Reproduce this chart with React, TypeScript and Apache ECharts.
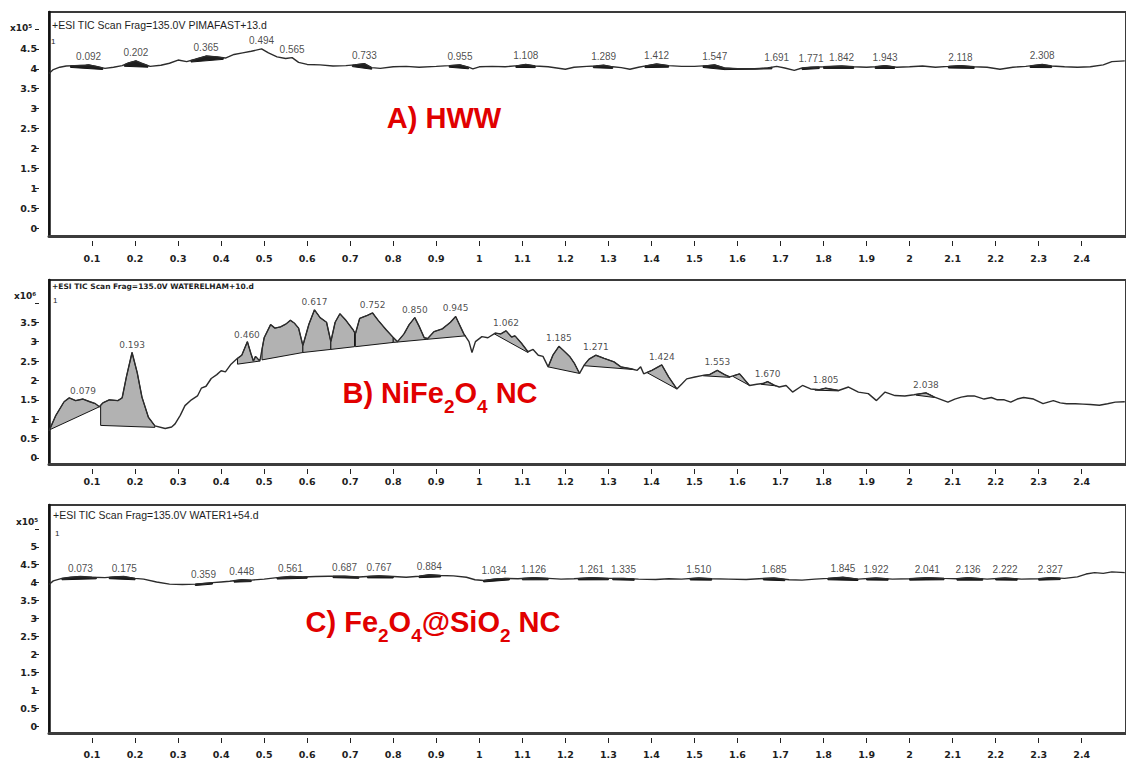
import React, { useEffect, useRef } from 'react';
import * as echarts from 'echarts';

// ---------- data ----------
const xTicks = [0.1, 0.2, 0.3, 0.4, 0.5, 0.6, 0.7, 0.8, 0.9, 1, 1.1, 1.2, 1.3, 1.4, 1.5, 1.6, 1.7, 1.8, 1.9, 2, 2.1, 2.2, 2.3, 2.4];
const yTicksA = [0, 0.5, 1, 1.5, 2, 2.5, 3, 3.5, 4, 4.5, 5];
const yTicksB = [0, 0.5, 1, 1.5, 2, 2.5, 3, 3.5, 4];
const yTicksC = [0, 0.5, 1, 1.5, 2, 2.5, 3, 3.5, 4, 4.5, 5, 5.5];

// Panel A: HWW (x10^5)
const traceA: number[][] = [
  [0, 3.88], [0.01, 3.98], [0.025, 4.04], [0.04, 4.07], [0.06, 4.08], [0.085, 4.09], [0.092, 4.1], [0.11, 4.06], [0.13, 4.01],
  [0.15, 4.04], [0.17, 4.08], [0.185, 4.15], [0.202, 4.2], [0.215, 4.14], [0.235, 4.06], [0.26, 4.09], [0.28, 4.14], [0.3, 4.22],
  [0.32, 4.18], [0.34, 4.24], [0.365, 4.32], [0.39, 4.3], [0.41, 4.27], [0.43, 4.36], [0.45, 4.4], [0.47, 4.44], [0.494, 4.5],
  [0.51, 4.4], [0.53, 4.3], [0.55, 4.26], [0.565, 4.28], [0.58, 4.16], [0.6, 4.11], [0.63, 4.1], [0.66, 4.07], [0.69, 4.08],
  [0.71, 4.1], [0.733, 4.13], [0.75, 4.03], [0.77, 4.01], [0.8, 4.05], [0.83, 4.06], [0.86, 4.04], [0.9, 4.06], [0.93, 4.08],
  [0.955, 4.1], [0.975, 4.04], [0.985, 4.0], [1.0, 4.05], [1.03, 4.06], [1.06, 4.05], [1.09, 4.08], [1.108, 4.11], [1.13, 4.07],
  [1.16, 4.05], [1.18, 4.02], [1.2, 3.99], [1.22, 4.04], [1.25, 4.06], [1.27, 4.07], [1.289, 4.09], [1.31, 4.05], [1.33, 4.03],
  [1.35, 3.99], [1.37, 4.04], [1.39, 4.08], [1.412, 4.12], [1.44, 4.08], [1.47, 4.06], [1.5, 4.06], [1.53, 4.08], [1.547, 4.1],
  [1.57, 4.02], [1.6, 4.0], [1.64, 4.0], [1.67, 4.02], [1.691, 4.06], [1.71, 4.02], [1.732, 3.96], [1.75, 4.02], [1.771, 4.04],
  [1.8, 4.05], [1.842, 4.07], [1.87, 4.05], [1.9, 4.04], [1.92, 4.05], [1.943, 4.08], [1.97, 4.04], [2.0, 4.05], [2.03, 4.07],
  [2.06, 4.04], [2.09, 4.06], [2.118, 4.08], [2.15, 4.05], [2.18, 4.04], [2.21, 3.99], [2.24, 4.04], [2.27, 4.06], [2.308, 4.11],
  [2.33, 4.07], [2.36, 4.05], [2.39, 4.04], [2.42, 4.05], [2.45, 4.1], [2.47, 4.18], [2.5, 4.2],
];
const peaksA = [0.092, 0.202, 0.365, 0.494, 0.565, 0.733, 0.955, 1.108, 1.289, 1.412, 1.547, 1.691, 1.771, 1.842, 1.943, 2.118, 2.308];
const areasA: number[][] = [
  [0.05, 0.125], [0.175, 0.23], [0.33, 0.405], [0.705, 0.75], [0.93, 0.975], [1.085, 1.13], [1.265, 1.31], [1.385, 1.44],
  [1.52, 1.57], [1.57, 1.68], [1.75, 1.79], [1.8, 1.87], [1.92, 1.965], [2.09, 2.15], [2.28, 2.33],
];

// Panel B: NiFe2O4 NC (x10^6)
const traceB: number[][] = [
  [0, 0.7], [0.016, 1.1], [0.035, 1.45], [0.047, 1.55], [0.062, 1.48], [0.079, 1.52], [0.095, 1.45], [0.108, 1.4], [0.117, 1.32],
  [0.125, 1.42], [0.14, 1.5], [0.16, 1.48], [0.17, 1.55], [0.18, 2.1], [0.193, 2.72], [0.205, 2.2], [0.216, 1.57], [0.231, 1.05],
  [0.246, 0.83], [0.27, 0.76], [0.285, 0.8], [0.293, 0.88], [0.305, 1.1], [0.316, 1.35], [0.331, 1.5], [0.345, 1.6], [0.354, 1.8],
  [0.365, 1.85], [0.377, 2.05], [0.39, 2.15], [0.4, 2.25], [0.41, 2.22], [0.423, 2.42], [0.438, 2.57], [0.448, 2.65], [0.461, 3.0],
  [0.469, 2.7], [0.475, 2.5], [0.48, 2.62], [0.49, 2.5], [0.5, 3.1], [0.515, 3.44], [0.525, 3.35], [0.538, 3.38], [0.55, 3.45],
  [0.561, 3.55], [0.57, 3.48], [0.58, 3.35], [0.59, 2.9], [0.604, 3.45], [0.617, 3.82], [0.63, 3.62], [0.645, 3.5], [0.655, 3.0],
  [0.665, 3.5], [0.676, 3.72], [0.69, 3.55], [0.707, 3.3], [0.712, 3.2], [0.722, 3.6], [0.74, 3.68], [0.752, 3.74], [0.765, 3.55],
  [0.784, 3.3], [0.799, 3.12], [0.81, 3.0], [0.825, 3.2], [0.837, 3.44], [0.85, 3.62], [0.86, 3.4], [0.872, 3.1], [0.88, 3.08],
  [0.895, 3.26], [0.914, 3.33], [0.933, 3.5], [0.945, 3.65], [0.964, 3.2], [0.976, 3.0], [0.983, 2.72], [0.991, 3.0], [1.006, 3.13],
  [1.02, 3.1], [1.037, 3.22], [1.05, 3.2], [1.062, 3.28], [1.075, 3.12], [1.083, 3.15], [1.098, 2.96], [1.113, 2.74], [1.125, 2.8],
  [1.137, 2.65], [1.148, 2.62], [1.16, 2.35], [1.171, 2.65], [1.185, 2.88], [1.195, 2.78], [1.21, 2.62], [1.221, 2.44], [1.233, 2.18],
  [1.244, 2.4], [1.255, 2.55], [1.271, 2.65], [1.29, 2.57], [1.313, 2.48], [1.329, 2.35], [1.352, 2.3], [1.367, 2.26], [1.375, 2.35],
  [1.382, 2.17], [1.401, 2.26], [1.424, 2.4], [1.44, 2.09], [1.459, 1.78], [1.47, 1.9], [1.482, 2.04], [1.501, 2.09], [1.52, 2.13],
  [1.535, 2.15], [1.553, 2.26], [1.57, 2.15], [1.582, 2.09], [1.605, 2.17], [1.628, 1.87], [1.645, 1.9], [1.659, 1.92], [1.67, 1.97],
  [1.685, 1.88], [1.697, 1.83], [1.713, 1.87], [1.728, 1.7], [1.751, 1.87], [1.77, 1.78], [1.79, 1.76], [1.805, 1.8], [1.835, 1.74],
  [1.858, 1.83], [1.881, 1.7], [1.904, 1.66], [1.923, 1.48], [1.943, 1.7], [1.966, 1.61], [1.989, 1.6], [2.01, 1.63], [2.038, 1.68],
  [2.058, 1.57], [2.075, 1.5], [2.089, 1.44], [2.105, 1.52], [2.12, 1.57], [2.135, 1.6], [2.15, 1.6], [2.173, 1.52], [2.19, 1.56],
  [2.204, 1.5], [2.22, 1.5], [2.235, 1.44], [2.25, 1.52], [2.265, 1.56], [2.288, 1.52], [2.31, 1.4], [2.334, 1.48], [2.35, 1.42],
  [2.365, 1.4], [2.385, 1.4], [2.403, 1.39], [2.42, 1.38], [2.441, 1.36], [2.46, 1.4], [2.478, 1.44], [2.5, 1.45],
];
const peaksB = [0.079, 0.193, 0.46, 0.617, 0.752, 0.85, 0.945, 1.062, 1.185, 1.271, 1.424, 1.553, 1.67, 1.805, 2.038];
// [start, end, baseline at start, baseline at end]
const areasB: number[][] = [
  [0.0, 0.117, 0.72, 1.32], [0.12, 0.246, 0.84, 0.79], [0.438, 0.49, 2.42, 2.5], [0.495, 0.59, 2.53, 2.72],
  [0.59, 0.655, 2.72, 2.8], [0.655, 0.71, 2.8, 2.87], [0.712, 0.8, 2.87, 2.98], [0.8, 0.878, 2.98, 3.06],
  [0.878, 0.968, 3.06, 3.15], [1.035, 1.113, 3.2, 2.72], [1.16, 1.233, 2.35, 2.18], [1.244, 1.36, 2.38, 2.28],
  [1.39, 1.459, 2.2, 1.78], [1.52, 1.582, 2.12, 2.08], [1.59, 1.628, 2.1, 1.87], [1.655, 1.69, 1.9, 1.86],
  [1.78, 1.835, 1.75, 1.73], [2.015, 2.058, 1.62, 1.56],
];

// Panel C: Fe2O4@SiO2 NC (x10^5)
const traceC: number[][] = [
  [0, 3.95], [0.01, 4.05], [0.03, 4.12], [0.05, 4.15], [0.073, 4.17], [0.1, 4.15], [0.13, 4.14], [0.15, 4.16], [0.175, 4.17],
  [0.2, 4.12], [0.22, 4.1], [0.25, 4.02], [0.28, 3.96], [0.31, 3.95], [0.34, 3.96], [0.36, 3.98], [0.38, 4.0], [0.4, 4.02],
  [0.42, 4.04], [0.448, 4.08], [0.47, 4.07], [0.5, 4.1], [0.53, 4.14], [0.561, 4.17], [0.59, 4.16], [0.62, 4.17], [0.65, 4.18],
  [0.687, 4.18], [0.72, 4.16], [0.75, 4.18], [0.767, 4.19], [0.8, 4.17], [0.83, 4.15], [0.86, 4.18], [0.884, 4.22], [0.91, 4.2],
  [0.94, 4.19], [0.97, 4.15], [0.99, 4.08], [1.01, 4.06], [1.034, 4.1], [1.06, 4.12], [1.09, 4.11], [1.126, 4.14], [1.16, 4.12],
  [1.19, 4.1], [1.22, 4.11], [1.261, 4.14], [1.3, 4.12], [1.335, 4.12], [1.37, 4.1], [1.41, 4.09], [1.44, 4.11], [1.47, 4.1],
  [1.51, 4.13], [1.54, 4.11], [1.58, 4.1], [1.62, 4.09], [1.65, 4.11], [1.685, 4.13], [1.72, 4.08], [1.75, 4.07], [1.78, 4.1],
  [1.81, 4.12], [1.845, 4.15], [1.88, 4.1], [1.922, 4.13], [1.96, 4.1], [2.0, 4.11], [2.041, 4.14], [2.08, 4.12], [2.11, 4.11],
  [2.136, 4.14], [2.18, 4.1], [2.222, 4.13], [2.26, 4.1], [2.3, 4.11], [2.327, 4.14], [2.36, 4.12], [2.39, 4.16], [2.41, 4.24],
  [2.43, 4.28], [2.45, 4.26], [2.47, 4.3], [2.5, 4.28],
];
const peaksC = [0.073, 0.175, 0.359, 0.448, 0.561, 0.687, 0.767, 0.884, 1.034, 1.126, 1.261, 1.335, 1.51, 1.685, 1.845, 1.922, 2.041, 2.136, 2.222, 2.327];
const areasC: number[][] = [
  [0.03, 0.11], [0.14, 0.2], [0.34, 0.38], [0.43, 0.47], [0.53, 0.6], [0.66, 0.72], [0.74, 0.8], [0.86, 0.91], [1.01, 1.07],
  [1.1, 1.16], [1.23, 1.3], [1.31, 1.36], [1.49, 1.54], [1.66, 1.71], [1.81, 1.88], [1.9, 1.95], [2.0, 2.08], [2.11, 2.17],
  [2.2, 2.25], [2.3, 2.35],
];

// ---------- helpers ----------
function interp(tr: number[][], x: number): number {
  if (x <= tr[0][0]) return tr[0][1];
  for (let i = 0; i < tr.length - 1; i++) {
    const [x0, y0] = tr[i];
    const [x1, y1] = tr[i + 1];
    if (x >= x0 && x <= x1) return y0 + ((y1 - y0) * (x - x0)) / (x1 - x0);
  }
  return tr[tr.length - 1][1];
}

const GRID_LEFT = 49;
const GRID_WIDTH = 1087;
const X_MAX = GRID_WIDTH / 434.3;
const AX_FONT = 'DejaVu Sans';
const RED_FONT = "'Liberation Sans', sans-serif";
const RED = '#e10000';

type Panel = {
  top: number; bottom: number; ymin: number; ymax: number; yTicks: number[]; yLabelMax: number;
  trace: number[][]; peaks: number[]; areas: number[][]; fill: string; xMargin: number;
  peakFont: string; peakSize: number;
};

const panels: Panel[] = [
  { top: 12, bottom: 236, ymin: -0.2, ymax: 5.427, yTicks: yTicksA, yLabelMax: 4.5, trace: traceA, peaks: peaksA,
    areas: areasA.map((a) => [a[0], a[1], interp(traceA, a[0]) - 0.04, interp(traceA, a[1]) - 0.04]), fill: '#1e1e1e', xMargin: 12,
    peakFont: 'Liberation Sans', peakSize: 10 },
  { top: 280, bottom: 464, ymin: -0.155, ymax: 4.59, yTicks: yTicksB, yLabelMax: 3.5, trace: traceB, peaks: peaksB,
    areas: areasB, fill: '#b2b2b2', xMargin: 7, peakFont: 'DejaVu Sans', peakSize: 9 },
  { top: 505, bottom: 734, ymin: -0.195, ymax: 6.167, yTicks: yTicksC, yLabelMax: 5, trace: traceC, peaks: peaksC,
    areas: areasC.map((a) => [a[0], a[1], interp(traceC, a[0]) - 0.04, interp(traceC, a[1]) - 0.04]), fill: '#1e1e1e', xMargin: 11,
    peakFont: 'Liberation Sans', peakSize: 10 },
];

function buildOption() {
  const grid: any[] = [];
  const xAxis: any[] = [];
  const yAxis: any[] = [];
  const series: any[] = [];

  panels.forEach((p, i) => {
    grid.push({ left: GRID_LEFT, top: p.top, width: GRID_WIDTH, height: p.bottom - p.top, show: true,
      borderColor: '#3a3a3a', borderWidth: 2, containLabel: false });
    xAxis.push({ type: 'value', gridIndex: i, min: 0, max: X_MAX, position: 'bottom',
      axisLine: { show: true, onZero: false, lineStyle: { color: '#3c3c3c', width: 3 } },
      axisTick: { show: false }, axisLabel: { show: false }, splitLine: { show: false } });
    xAxis.push({ type: 'value', gridIndex: i, min: 0, max: X_MAX, position: 'bottom', offset: 5,
      axisLine: { show: false, onZero: false },
      axisTick: { show: true, length: 5, customValues: xTicks, lineStyle: { color: '#222', width: 1 } },
      axisLabel: { show: true, customValues: xTicks, margin: p.xMargin, fontFamily: AX_FONT, fontSize: 9.5, fontWeight: 'bold',
        color: '#1e1e1e', formatter: (v: number) => String(v) },
      splitLine: { show: false } });
    yAxis.push({ type: 'value', gridIndex: i, min: p.ymin, max: p.ymax, position: 'left',
      axisLine: { show: true, onZero: false, lineStyle: { color: '#111', width: 2.5 } },
      axisTick: { show: false }, axisLabel: { show: false }, splitLine: { show: false } });
    yAxis.push({ type: 'value', gridIndex: i, min: p.ymin, max: p.ymax, position: 'left', offset: 10,
      axisLine: { show: false, onZero: false },
      axisTick: { show: true, length: 4, customValues: p.yTicks, lineStyle: { color: '#222', width: 1 } },
      axisLabel: { show: true, customValues: p.yTicks, margin: 2, fontFamily: AX_FONT, fontSize: 9.5, fontWeight: 'bold',
        color: '#1e1e1e', formatter: (v: number) => (v > p.yLabelMax + 1e-9 ? '' : String(v)) },
      splitLine: { show: false } });

    const xi = i * 2;
    const yi = i * 2;
    const areas = p.areas;
    const trace = p.trace;
    series.push({
      type: 'custom', xAxisIndex: xi, yAxisIndex: yi, clip: true, z: 2, silent: true,
      data: areas.map((a, k) => [a[0], a[2], k]),
      renderItem: (params: any, api: any) => {
        const a = areas[params.dataIndex];
        const pts: number[][] = [];
        pts.push(api.coord([a[0], a[2]]));
        pts.push(api.coord([a[0], interp(trace, a[0])]));
        trace.forEach((pt) => { if (pt[0] > a[0] && pt[0] < a[1]) pts.push(api.coord(pt)); });
        pts.push(api.coord([a[1], interp(trace, a[1])]));
        pts.push(api.coord([a[1], a[3]]));
        return { type: 'polygon', shape: { points: pts }, style: { fill: p.fill, stroke: '#151515', lineWidth: 1 } };
      },
    });
    series.push({
      type: 'line', xAxisIndex: xi, yAxisIndex: yi, data: trace, showSymbol: false, symbol: 'none', z: 4, silent: true,
      lineStyle: { color: '#2c2c2c', width: 1.4 },
    });
    series.push({
      type: 'scatter', xAxisIndex: xi, yAxisIndex: yi, z: 5, silent: true, symbolSize: 1,
      itemStyle: { color: 'rgba(0,0,0,0)' },
      data: p.peaks.map((rt) => [rt, interp(trace, rt)]),
      label: { show: true, position: 'top', distance: 3, fontFamily: p.peakFont, fontSize: p.peakSize, color: '#1a1a1a',
        formatter: (prm: any) => Number(prm.data[0]).toFixed(3) },
    });
  });

  const small = (x: number, y: number, text: string, font: string, size: number, weight = 'normal') => ({
    type: 'text', x, y, silent: true,
    style: { text, fontFamily: font, fontSize: size, fontWeight: weight, fill: '#1e1e1e', align: 'left', verticalAlign: 'middle' },
  });

  const redRich = {
    a: { fontFamily: RED_FONT, fontSize: 29, fontWeight: 'bold', fill: RED, color: RED, lineHeight: 46, verticalAlign: 'middle' },
    s: { fontFamily: RED_FONT, fontSize: 19, fontWeight: 'bold', fill: RED, color: RED, verticalAlign: 'bottom' },
  };

  const graphic: any[] = [
    small(52, 25, '+ESI TIC Scan Frag=135.0V PIMAFAST+13.d', 'Liberation Sans', 10.5),
    small(52, 286, '+ESI TIC Scan Frag=135.0V WATERELHAM+10.d', 'DejaVu Sans', 7.5, 'bold'),
    small(53, 515, '+ESI TIC Scan Frag=135.0V WATER1+54.d', 'Liberation Sans', 10.5),
    small(10, 28, 'x10⁵', 'DejaVu Sans', 9, 'bold'),
    small(14, 296, 'x10⁶', 'DejaVu Sans', 9, 'bold'),
    small(16, 522, 'x10⁵', 'DejaVu Sans', 9, 'bold'),
    small(51, 41, '1', 'Liberation Sans', 8),
    small(53, 300, '1', 'Liberation Sans', 8),
    small(55, 533, '1', 'Liberation Sans', 8),
    { type: 'text', x: 444, y: 118, silent: true, z: 10,
      style: { text: '{a|A) HWW}', rich: redRich, align: 'center', verticalAlign: 'middle' } },
    { type: 'text', x: 440, y: 393, silent: true, z: 10,
      style: { text: '{a|B) NiFe}{s|2}{a|O}{s|4}{a| NC}', rich: redRich, align: 'center', verticalAlign: 'middle' } },
    { type: 'text', x: 433, y: 622, silent: true, z: 10,
      style: { text: '{a|C) Fe}{s|2}{a|O}{s|4}{a|@SiO}{s|2}{a| NC}', rich: redRich, align: 'center', verticalAlign: 'middle' } },
  ];

  return {
    animation: false,
    backgroundColor: '#ffffff',
    textStyle: { fontFamily: AX_FONT },
    grid, xAxis, yAxis, series, graphic,
  };
}

export default function App() {
  const ref = useRef<HTMLDivElement>(null);
  useEffect(() => {
    if (!ref.current) return;
    const chart = echarts.init(ref.current, undefined, { renderer: 'svg' });
    chart.setOption(buildOption() as any);
    return () => chart.dispose();
  }, []);
  return <div ref={ref} style={{ position: 'fixed', left: 0, top: 0, width: 1126, height: 759, background: '#fff' }} />;
}
